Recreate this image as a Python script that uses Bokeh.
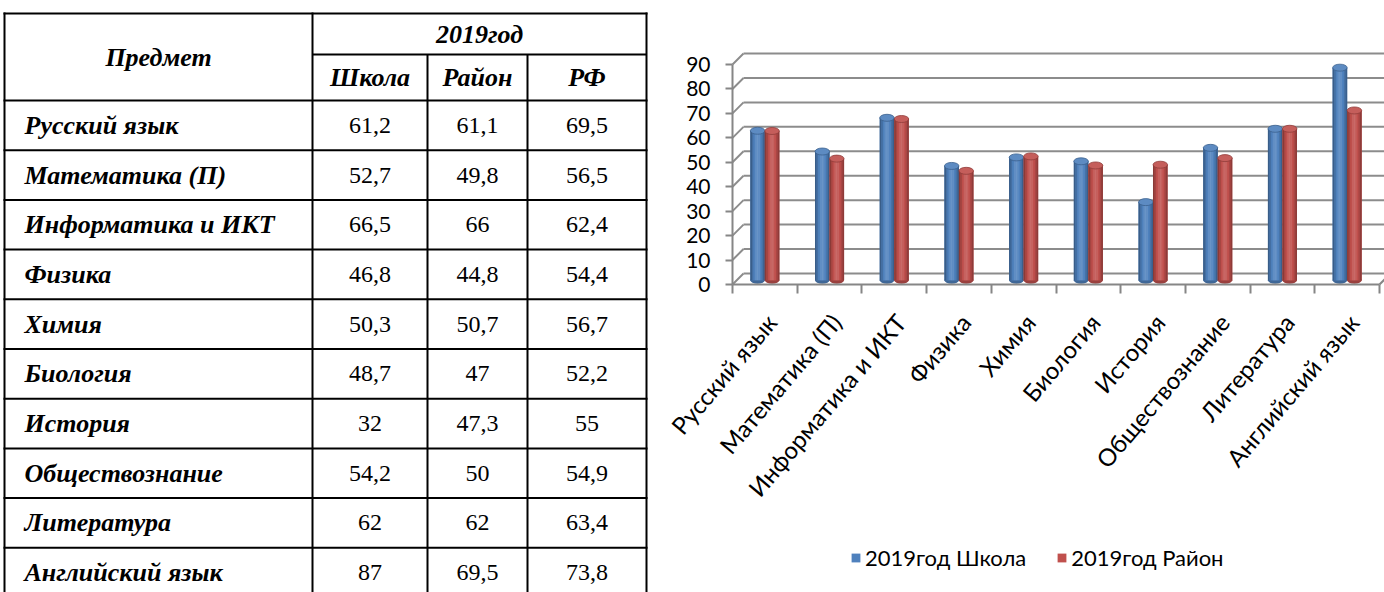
import math
from bokeh.plotting import figure
from bokeh.layouts import row
from bokeh.models import Range1d, FixedTicker, ColumnDataSource, Legend, LegendItem
from bokeh.core.properties import value
from bokeh.embed import file_html
from bokeh.resources import INLINE

# ---------------- data ----------------
subjects = ["Русский язык", "Математика (П)", "Информатика и ИКТ", "Физика", "Химия",
            "Биология", "История", "Обществознание", "Литература", "Английский язык"]
school = [61.2, 52.7, 66.5, 46.8, 50.3, 48.7, 32, 54.2, 62, 87]
district = [61.1, 49.8, 66, 44.8, 50.7, 47, 47.3, 50, 62, 69.5]
rf = [69.5, 56.5, 62.4, 54.4, 56.7, 52.2, 55, 54.9, 63.4, 73.8]
head_subject = "Предмет"
head_year = "2019год"
col_headers = ["Школа", "Район", "РФ"]
series_names = ["2019год Школа", "2019год Район"]
y_ticks = [0, 10, 20, 30, 40, 50, 60, 70, 80, 90]

# ---------------- styles / layout ----------------
SERIF = "Liberation Serif"
SANS = "Lato"
BLUE = "#4F81BD"
RED = "#C0504D"
GRID = "#8c8c8c"
AXIS = "#868686"
H = 592
T_W = 648
C_W = 736

n = len(subjects)


def fmt(v):
    return f"{v:g}".replace(".", ",")


def shade(hexc, f):
    r, g, b = (int(hexc[i:i + 2], 16) for i in (1, 3, 5))
    out = []
    for c in (r, g, b):
        if f >= 1:
            c = c + (255 - c) * (f - 1)
        else:
            c = c * f
        out.append(max(0, min(255, int(round(c)))))
    return "#%02x%02x%02x" % tuple(out)


# ---------------- table (left) ----------------
T = figure(width=T_W, height=H, x_range=Range1d(0, T_W), y_range=Range1d(H, 0),
           output_backend="svg", toolbar_location=None, min_border=0)
T.axis.visible = False
T.grid.visible = False
T.outline_line_color = None

TOP, SPLIT, HEAD_BOT, ROW_H = 13, 54, 100, 49.7
edges = [4, 312, 427, 527, 646]
BOTTOM = HEAD_BOT + ROW_H * n

hy = [TOP, HEAD_BOT] + [HEAD_BOT + ROW_H * (i + 1) for i in range(n)]
T.segment(x0=edges[0], x1=edges[-1], y0=hy, y1=hy, line_color="black", line_width=2, line_cap="square")
T.segment(x0=edges[1], x1=edges[-1], y0=SPLIT, y1=SPLIT, line_color="black", line_width=2)
T.segment(x0=[edges[0], edges[1], edges[4]], x1=[edges[0], edges[1], edges[4]],
          y0=TOP, y1=BOTTOM, line_color="black", line_width=2, line_cap="square")
T.segment(x0=[edges[2], edges[3]], x1=[edges[2], edges[3]], y0=SPLIT, y1=BOTTOM,
          line_color="black", line_width=2)

col_centers = [(edges[k] + edges[k + 1]) / 2 for k in range(1, 4)]
row_centers = [HEAD_BOT + ROW_H * (i + 0.5) for i in range(n)]

bi = dict(text_font=value(SERIF), text_font_style="bold italic", text_color="black",
          text_baseline="middle", text_font_size="26px")
T.text(x=[(edges[0] + edges[1]) / 2], y=[(TOP + HEAD_BOT) / 2], text=[head_subject],
       text_align="center", **bi)
T.text(x=[(edges[1] + edges[4]) / 2], y=[(TOP + SPLIT) / 2], text=[head_year],
       text_align="center", **bi)
T.text(x=col_centers, y=[(SPLIT + HEAD_BOT) / 2] * 3, text=col_headers,
       text_align="center", **bi)
T.text(x=[edges[0] + 20] * n, y=row_centers, text=subjects, text_align="left", **bi)

num_x, num_y, num_t = [], [], []
for k, series in enumerate([school, district, rf]):
    for i, v in enumerate(series):
        num_x.append(col_centers[k])
        num_y.append(row_centers[i])
        num_t.append(fmt(v))
T.text(x=num_x, y=num_y, text=num_t, text_align="center", text_baseline="middle",
       text_font=value(SERIF), text_font_style="normal", text_font_size="24px",
       text_color="black")

# ---------------- chart (right) ----------------
PX_PER_CAT = 64.7
PX_PER_UNIT = 220 / 90
ZERO_Y = 284          # pixel row of value 0 on the front plane
AXIS_X = 732 - T_W    # pixel column of the value axis inside the chart figure
C = figure(width=C_W, height=H,
           x_range=Range1d(-0.5 - AXIS_X / PX_PER_CAT, -0.5 + (C_W - AXIS_X) / PX_PER_CAT),
           y_range=Range1d(-(H - ZERO_Y) / PX_PER_UNIT, ZERO_Y / PX_PER_UNIT),
           output_backend="svg", toolbar_location=None, min_border=0)
C.grid.visible = False
C.outline_line_color = None

DX = 11 / PX_PER_CAT
DY = 4.5
back_y = [v + DY for v in y_ticks]
C.segment(x0=-0.5 + DX, x1=n + 1, y0=back_y, y1=back_y, line_color=GRID, line_width=2)
C.segment(x0=-0.5, y0=y_ticks, x1=-0.5 + DX, y1=back_y, line_color=GRID, line_width=2)
# right edge of the floor
C.segment(x0=n - 0.5, y0=0, x1=n - 0.5 + DX, y1=DY, line_color=AXIS, line_width=2)

BAR_W = 0.224
BAR_OFF = 0.112
LIFT = 1.7
profile = [0.72, 0.86, 0.99, 1.10, 1.15, 1.10, 1.00, 0.88, 0.74]
NS = len(profile)
sw = BAR_W / NS

legend_renderers = []
for values, base, sign in [(school, BLUE, -1), (district, RED, 1)]:
    centers = [i + sign * BAR_OFF for i in range(n)]
    tops = [v + LIFT for v in values]
    C.ellipse(x=centers, y=[LIFT] * n, width=BAR_W, height=7, height_units="screen",
              fill_color=shade(base, 0.8), line_color=None)
    main = C.vbar(x=centers, top=tops, bottom=LIFT, width=BAR_W, fill_color=base, line_color=None)
    legend_renderers.append(main)
    sx, st, sc = [], [], []
    for j, f in enumerate(profile):
        for i in range(n):
            sx.append(centers[i] - BAR_W / 2 + (j + 0.5) * sw)
            st.append(tops[i])
            sc.append(shade(base, f))
    C.vbar(x="x", top="top", bottom=LIFT, width=sw * 1.08, fill_color="c", line_color=None,
           source=ColumnDataSource(dict(x=sx, top=st, c=sc)))
    C.ellipse(x=centers, y=tops, width=BAR_W, height=7, height_units="screen",
              fill_color=shade(base, 1.08), line_color=shade(base, 0.75), line_width=0.8)

# axes
C.yaxis.fixed_location = -0.5
C.yaxis.ticker = FixedTicker(ticks=y_ticks)
C.yaxis.bounds = (0, 90)
C.yaxis.major_tick_out = 7
C.yaxis.major_tick_in = 0
C.yaxis.minor_tick_line_color = None
C.yaxis.major_label_standoff = 15
C.yaxis.major_label_text_font_size = "21px"

LABEL_SHIFT = 0.1
C.xaxis.fixed_location = 0
C.xaxis.ticker = FixedTicker(ticks=[i + LABEL_SHIFT for i in range(n)],
                             minor_ticks=[i - 0.5 for i in range(n + 1)])
C.xaxis.major_label_overrides = {i + LABEL_SHIFT: s for i, s in enumerate(subjects)}
C.xaxis.bounds = (-0.5, n - 0.5)
C.xaxis.major_tick_line_color = None
C.xaxis.major_tick_out = 0
C.xaxis.major_tick_in = 0
C.xaxis.minor_tick_out = 9
C.xaxis.minor_tick_in = 0
C.xaxis.minor_tick_line_color = AXIS
C.xaxis.minor_tick_line_width = 2
C.xaxis.major_label_orientation = 0.87
C.xaxis.major_label_standoff = 24
C.xaxis.major_label_text_font_size = "24px"

for ax in (C.xaxis, C.yaxis):
    ax.axis_line_color = AXIS
    ax.axis_line_width = 2
    ax.major_tick_line_width = 2
    ax.major_label_text_font = SANS
    ax.major_label_text_color = "black"
C.yaxis.major_tick_line_color = AXIS

legend = Legend(items=[LegendItem(label=series_names[0], renderers=[legend_renderers[0]]),
                       LegendItem(label=series_names[1], renderers=[legend_renderers[1]])],
                orientation="horizontal", location=(850 - T_W, H - 571),
                border_line_color=None, background_fill_alpha=0, padding=0, margin=0,
                glyph_width=11, glyph_height=11, label_height=11, label_standoff=4, spacing=30,
                label_text_font=SANS, label_text_font_size="22px", label_text_color="black")
C.add_layout(legend, "center")

layout = row(T, C)
open("out.html", "w").write(file_html(layout, INLINE))
